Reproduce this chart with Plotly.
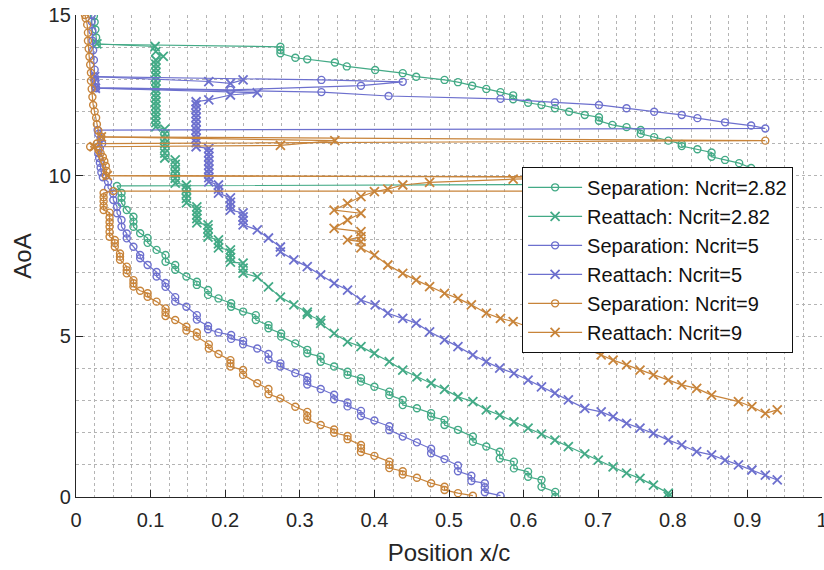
import plotly.graph_objects as go

# Laminar separation / turbulent reattachment location vs angle of attack,
# three transition criteria (Ncrit). Each series is a list of (x/c, AoA) in sweep order.

GREEN_SEP = [
    (0.6425, 0.01), (0.6425, 0.16), (0.624, 0.32), (0.624, 0.53), (0.606, 0.63), (0.606, 0.79),
    (0.587, 0.89), (0.587, 1.10), (0.568, 1.20), (0.568, 1.41), (0.550, 1.57), (0.532, 1.72),
    (0.532, 1.88), (0.512, 2.09), (0.494, 2.24), (0.494, 2.40), (0.476, 2.50), (0.476, 2.61),
    (0.457, 2.76), (0.438, 2.86), (0.438, 3.02), (0.420, 3.17), (0.420, 3.28), (0.400, 3.43),
    (0.382, 3.59), (0.382, 3.70), (0.364, 3.80), (0.364, 3.90), (0.346, 4.06), (0.328, 4.21),
    (0.328, 4.37), (0.310, 4.47), (0.310, 4.58), (0.294, 4.78), (0.275, 4.99), (0.275, 5.09),
    (0.258, 5.25), (0.258, 5.35), (0.241, 5.51), (0.241, 5.66), (0.224, 5.77), (0.208, 5.92),
    (0.208, 6.03), (0.191, 6.18), (0.177, 6.29), (0.177, 6.44), (0.162, 6.60), (0.162, 6.70),
    (0.148, 6.86), (0.133, 7.07), (0.133, 7.22), (0.120, 7.32), (0.120, 7.53), (0.108, 7.69),
    (0.096, 7.91), (0.096, 8.06), (0.086, 8.21), (0.077, 8.41), (0.077, 8.57), (0.077, 8.72),
    (0.068, 8.93), (0.061, 9.15), (0.061, 9.31), (0.061, 9.46), (0.055, 9.68),
    (0.942, 9.75), (0.935, 9.92), (0.922, 10.10), (0.905, 10.24), (0.889, 10.39), (0.870, 10.49),
    (0.852, 10.59), (0.852, 10.72), (0.833, 10.82), (0.812, 10.92), (0.812, 10.99), (0.794, 11.09),
    (0.775, 11.20), (0.757, 11.30), (0.757, 11.42), (0.738, 11.51), (0.719, 11.58), (0.701, 11.71),
    (0.701, 11.82), (0.682, 11.89), (0.661, 11.99), (0.642, 12.10), (0.624, 12.20), (0.606, 12.27),
    (0.586, 12.38), (0.586, 12.50), (0.569, 12.60), (0.550, 12.70), (0.531, 12.80), (0.512, 12.91),
    (0.494, 12.98), (0.456, 13.08), (0.438, 13.19), (0.401, 13.29), (0.363, 13.40), (0.347, 13.52),
    (0.310, 13.62), (0.294, 13.67), (0.274, 13.81), (0.274, 13.91), (0.274, 14.01),
    (0.028, 14.09), (0.027, 14.30), (0.026, 14.55), (0.025, 14.78), (0.024, 14.97),
]

GREEN_REATT = [
    (0.794, 0.02), (0.794, 0.12), (0.774, 0.37), (0.756, 0.58), (0.738, 0.74), (0.720, 0.94),
    (0.700, 1.15), (0.682, 1.34), (0.660, 1.57), (0.642, 1.77), (0.624, 1.96), (0.606, 2.14),
    (0.587, 2.34), (0.568, 2.55), (0.550, 2.71), (0.532, 2.97), (0.512, 3.12), (0.494, 3.35),
    (0.476, 3.54), (0.457, 3.74), (0.438, 3.95), (0.420, 4.21), (0.400, 4.47), (0.382, 4.68),
    (0.364, 4.83), (0.346, 5.09), (0.328, 5.40), (0.328, 5.50), (0.310, 5.68), (0.310, 5.75),
    (0.292, 5.98), (0.274, 6.22), (0.258, 6.54), (0.243, 6.85), (0.224, 6.97), (0.224, 7.12),
    (0.224, 7.28), (0.207, 7.31), (0.207, 7.45), (0.207, 7.58), (0.207, 7.69), (0.191, 7.75),
    (0.191, 7.88), (0.191, 8.00), (0.177, 8.09), (0.177, 8.22), (0.177, 8.35), (0.177, 8.47),
    (0.162, 8.53), (0.162, 8.66), (0.162, 8.78), (0.162, 8.91), (0.162, 9.03), (0.148, 9.15),
    (0.148, 9.29), (0.148, 9.43), (0.148, 9.57), (0.148, 9.71), (0.133, 9.77), (0.133, 9.92),
    (0.133, 10.06), (0.133, 10.20), (0.133, 10.35), (0.133, 10.49), (0.119, 10.55), (0.119, 10.70),
    (0.119, 10.85), (0.119, 11.00), (0.119, 11.15), (0.119, 11.30), (0.119, 11.45), (0.107, 11.52),
    (0.107, 11.65), (0.107, 11.78), (0.107, 11.91), (0.107, 12.04), (0.107, 12.17), (0.107, 12.30),
    (0.107, 12.43), (0.107, 12.56), (0.107, 12.69), (0.107, 12.82), (0.107, 12.95), (0.107, 13.08),
    (0.107, 13.21), (0.107, 13.34), (0.107, 13.47), (0.107, 13.60), (0.117, 13.71), (0.107, 13.86),
    (0.106, 14.02), (0.028, 14.10),
]

PURPLE_SEP = [
    (0.569, 0.04), (0.548, 0.15), (0.548, 0.30), (0.548, 0.43), (0.530, 0.50), (0.530, 0.66),
    (0.512, 0.80), (0.512, 0.98), (0.494, 1.18), (0.476, 1.36), (0.476, 1.50), (0.457, 1.70),
    (0.438, 1.88), (0.420, 2.08), (0.420, 2.20), (0.400, 2.38), (0.382, 2.52), (0.382, 2.68),
    (0.364, 2.82), (0.364, 2.94), (0.346, 3.04), (0.346, 3.18), (0.328, 3.36), (0.310, 3.50),
    (0.310, 3.62), (0.310, 3.74), (0.294, 3.86), (0.274, 4.06), (0.274, 4.16), (0.258, 4.28),
    (0.258, 4.45), (0.243, 4.62), (0.224, 4.75), (0.224, 4.86), (0.208, 4.92), (0.208, 5.04),
    (0.191, 5.12), (0.177, 5.22), (0.177, 5.32), (0.162, 5.52), (0.162, 5.66), (0.148, 5.92),
    (0.133, 6.08), (0.133, 6.22), (0.120, 6.54), (0.120, 6.66), (0.108, 6.86), (0.108, 7.00),
    (0.096, 7.22), (0.086, 7.43), (0.086, 7.53), (0.077, 7.79), (0.068, 8.05), (0.068, 8.20),
    (0.061, 8.41), (0.061, 8.62), (0.055, 8.83), (0.055, 9.04), (0.050, 9.24), (0.050, 9.44),
    (0.043, 9.62), (0.043, 9.81),
    (0.036, 9.95), (0.034, 10.10), (0.033, 10.25), (0.032, 10.40), (0.031, 10.55), (0.030, 10.70),
    (0.032, 10.85), (0.035, 11.00), (0.033, 11.15), (0.030, 11.30), (0.029, 11.42),
    (0.924, 11.47), (0.905, 11.56), (0.870, 11.66), (0.833, 11.79), (0.812, 11.89), (0.775, 11.99),
    (0.738, 12.10), (0.701, 12.20), (0.642, 12.28), (0.569, 12.39), (0.419, 12.48), (0.329, 12.60),
    (0.027, 12.72), (0.026, 12.85), (0.026, 12.97), (0.025, 13.08), (0.329, 12.98), (0.438, 12.92),
    (0.382, 12.80), (0.207, 12.67), (0.026, 12.74), (0.025, 13.30), (0.024, 13.60), (0.023, 13.90),
    (0.022, 14.20), (0.022, 14.50), (0.021, 14.80), (0.021, 15.00),
]

PURPLE_REATT = [
    (0.940, 0.53), (0.924, 0.68), (0.906, 0.84), (0.888, 1.00), (0.870, 1.15), (0.852, 1.31),
    (0.832, 1.41), (0.812, 1.62), (0.794, 1.77), (0.774, 1.98), (0.756, 2.14), (0.738, 2.29),
    (0.720, 2.50), (0.704, 2.65), (0.682, 2.76), (0.660, 3.02), (0.642, 3.23), (0.624, 3.43),
    (0.606, 3.64), (0.587, 3.85), (0.568, 4.01), (0.550, 4.21), (0.532, 4.42), (0.512, 4.68),
    (0.494, 4.89), (0.474, 5.14), (0.456, 5.41), (0.438, 5.56), (0.418, 5.72), (0.401, 5.98),
    (0.382, 6.13), (0.364, 6.44), (0.346, 6.65), (0.328, 6.91), (0.310, 7.17), (0.292, 7.38),
    (0.274, 7.63), (0.274, 7.78), (0.258, 8.06), (0.243, 8.31), (0.224, 8.47), (0.224, 8.60),
    (0.224, 8.72), (0.224, 8.84), (0.207, 8.93), (0.207, 9.05), (0.207, 9.18), (0.207, 9.31),
    (0.191, 9.46), (0.191, 9.58), (0.191, 9.71), (0.178, 9.81), (0.178, 9.94), (0.178, 10.07),
    (0.178, 10.20), (0.178, 10.33), (0.178, 10.46), (0.178, 10.59), (0.178, 10.72), (0.178, 10.85),
    (0.161, 10.90), (0.161, 11.03), (0.161, 11.16), (0.161, 11.29), (0.161, 11.42), (0.161, 11.55),
    (0.161, 11.68), (0.161, 11.81), (0.161, 11.94), (0.161, 12.07), (0.161, 12.20), (0.161, 12.30),
    (0.178, 12.36), (0.207, 12.51), (0.243, 12.58), (0.026, 12.72), (0.025, 13.08),
    (0.178, 12.93), (0.207, 12.87), (0.224, 12.98),
]

ORANGE_SEP = [
    (0.532, 0.04), (0.512, 0.12), (0.494, 0.22), (0.494, 0.32), (0.476, 0.43), (0.457, 0.60),
    (0.438, 0.70), (0.438, 0.80), (0.420, 0.90), (0.420, 1.00), (0.420, 1.10), (0.400, 1.28),
    (0.382, 1.40), (0.382, 1.52), (0.382, 1.62), (0.364, 1.80), (0.364, 1.90), (0.346, 2.00),
    (0.346, 2.10), (0.328, 2.24), (0.310, 2.40), (0.310, 2.52), (0.310, 2.65), (0.294, 2.81),
    (0.274, 3.07), (0.258, 3.20), (0.258, 3.36), (0.243, 3.54), (0.224, 3.80), (0.224, 3.95),
    (0.207, 4.06), (0.207, 4.16), (0.207, 4.26), (0.191, 4.45), (0.178, 4.62), (0.178, 4.75),
    (0.162, 4.99), (0.162, 5.12), (0.148, 5.18), (0.148, 5.30), (0.133, 5.51), (0.120, 5.63),
    (0.120, 5.75), (0.120, 5.87), (0.108, 6.08), (0.096, 6.23), (0.096, 6.34), (0.086, 6.42),
    (0.077, 6.55), (0.077, 6.65), (0.077, 6.75), (0.068, 6.96), (0.068, 7.06), (0.068, 7.17),
    (0.059, 7.38), (0.059, 7.48), (0.059, 7.58), (0.052, 7.79), (0.052, 7.90), (0.052, 8.00),
    (0.045, 8.10), (0.045, 8.25), (0.045, 8.41), (0.045, 8.55), (0.045, 8.70), (0.045, 8.85),
    (0.037, 8.93), (0.037, 9.06), (0.037, 9.20), (0.037, 9.33), (0.037, 9.46), (0.050, 9.52),
    (0.940, 9.52), (0.940, 9.95), (0.040, 10.00), (0.041, 10.15), (0.040, 10.30), (0.038, 10.45),
    (0.036, 10.58), (0.033, 10.70), (0.030, 10.80), (0.019, 10.90), (0.028, 11.00), (0.924, 11.09),
    (0.034, 11.21), (0.030, 11.40), (0.028, 11.60), (0.027, 11.80), (0.025, 12.00), (0.023, 12.20),
    (0.022, 12.45), (0.021, 12.70), (0.020, 12.95), (0.020, 13.20), (0.019, 13.45), (0.018, 13.70),
    (0.017, 13.95), (0.016, 14.20), (0.016, 14.45), (0.015, 14.70), (0.013, 14.90), (0.012, 15.00),
]

ORANGE_REATT = [
    (0.940, 2.71), (0.924, 2.60), (0.906, 2.81), (0.888, 2.97), (0.852, 3.17), (0.832, 3.38),
    (0.812, 3.49), (0.794, 3.64), (0.774, 3.80), (0.756, 3.95), (0.738, 4.11), (0.720, 4.26),
    (0.704, 4.42), (0.682, 4.63), (0.660, 4.73), (0.642, 4.93), (0.624, 5.15), (0.606, 5.30),
    (0.586, 5.46), (0.569, 5.56), (0.550, 5.72), (0.530, 5.98), (0.512, 6.18), (0.494, 6.34),
    (0.474, 6.55), (0.456, 6.75), (0.438, 6.96), (0.418, 7.22), (0.400, 7.53), (0.382, 7.75),
    (0.382, 7.95), (0.364, 8.00), (0.382, 8.10), (0.382, 8.26), (0.346, 8.36), (0.364, 8.62),
    (0.382, 8.83), (0.346, 8.93), (0.364, 9.14), (0.382, 9.35), (0.400, 9.50), (0.418, 9.58),
    (0.438, 9.71), (0.474, 9.79), (0.586, 9.89), (0.700, 9.95), (0.042, 10.00), (0.024, 10.90),
    (0.274, 10.94), (0.347, 11.09), (0.034, 11.21),
]

SERIES_NAMES = [
    "Separation: Ncrit=2.82", "Reattach: Ncrit=2.82",
    "Separation: Ncrit=5", "Reattach: Ncrit=5",
    "Separation: Ncrit=9", "Reattach: Ncrit=9",
]

X_TICKS = [0, 0.1, 0.2, 0.3, 0.4, 0.5, 0.6, 0.7, 0.8, 0.9, 1]
X_TICK_LABELS = ["0", "0.1", "0.2", "0.3", "0.4", "0.5", "0.6", "0.7", "0.8", "0.9", "1"]
Y_TICKS = [0, 5, 10, 15]

GREEN = "#43AA86"
PURPLE = "#6D70CE"
ORANGE = "#C8843A"

series = [
    (GREEN_SEP, GREEN, "circle-open"),
    (GREEN_REATT, GREEN, "x-thin-open"),
    (PURPLE_SEP, PURPLE, "circle-open"),
    (PURPLE_REATT, PURPLE, "x-thin-open"),
    (ORANGE_SEP, ORANGE, "circle-open"),
    (ORANGE_REATT, ORANGE, "x-thin-open"),
]

FONT = "Liberation Sans, Arial, sans-serif"
INK = "#262626"
GRID = "#b4b4b4"

fig = go.Figure()
for (pts, color, symbol), name in zip(series, SERIES_NAMES):
    xs = [p[0] for p in pts]
    ys = [p[1] for p in pts]
    is_circle = symbol == "circle-open"
    fig.add_trace(go.Scatter(
        x=xs, y=ys, mode="lines+markers", name=name,
        line=dict(color=color, width=1.2),
        marker=dict(symbol=symbol, size=7 if is_circle else 9, color=color,
                    line=dict(color=color, width=1.4 if is_circle else 1.8)),
    ))

axis_common = dict(
    showline=True, linecolor=INK, linewidth=1.3, mirror=False,
    ticks="inside", ticklen=7, tickwidth=1.3, tickcolor=INK,
    showgrid=True, gridcolor=GRID, gridwidth=1, griddash="dot",
    zeroline=False, ticklabeloverflow="allow", automargin=False,
    tickfont=dict(family=FONT, size=20, color=INK),
    title_font=dict(family=FONT, size=24, color=INK),
)

fig.update_xaxes(
    range=[0, 1], tickmode="array", tickvals=X_TICKS, ticktext=X_TICK_LABELS,
    ticklabelstandoff=5,
    minor=dict(dtick=0.025, tick0=0, showgrid=True, gridcolor=GRID, griddash="dot", gridwidth=1),
    title_text="Position x/c", title_standoff=14,
    **axis_common,
)
fig.update_yaxes(
    range=[0, 15], tickmode="array", tickvals=Y_TICKS,
    minor=dict(dtick=1, tick0=0, showgrid=True, gridcolor=GRID, griddash="dot", gridwidth=1),
    title_text="AoA", title_standoff=10,
    **axis_common,
)

fig.update_layout(
    width=824, height=570,
    margin=dict(l=76, r=2, t=15, b=73),
    paper_bgcolor="white", plot_bgcolor="white",
    font=dict(family=FONT, color=INK),
    legend=dict(
        x=0.598, y=0.685, xanchor="left", yanchor="top",
        bgcolor="white", bordercolor="#111111", borderwidth=1,
        font=dict(family=FONT, size=20, color="#111111"),
        itemwidth=54, tracegroupgap=0,
    ),
    showlegend=True,
)

fig.write_html("out.html")
